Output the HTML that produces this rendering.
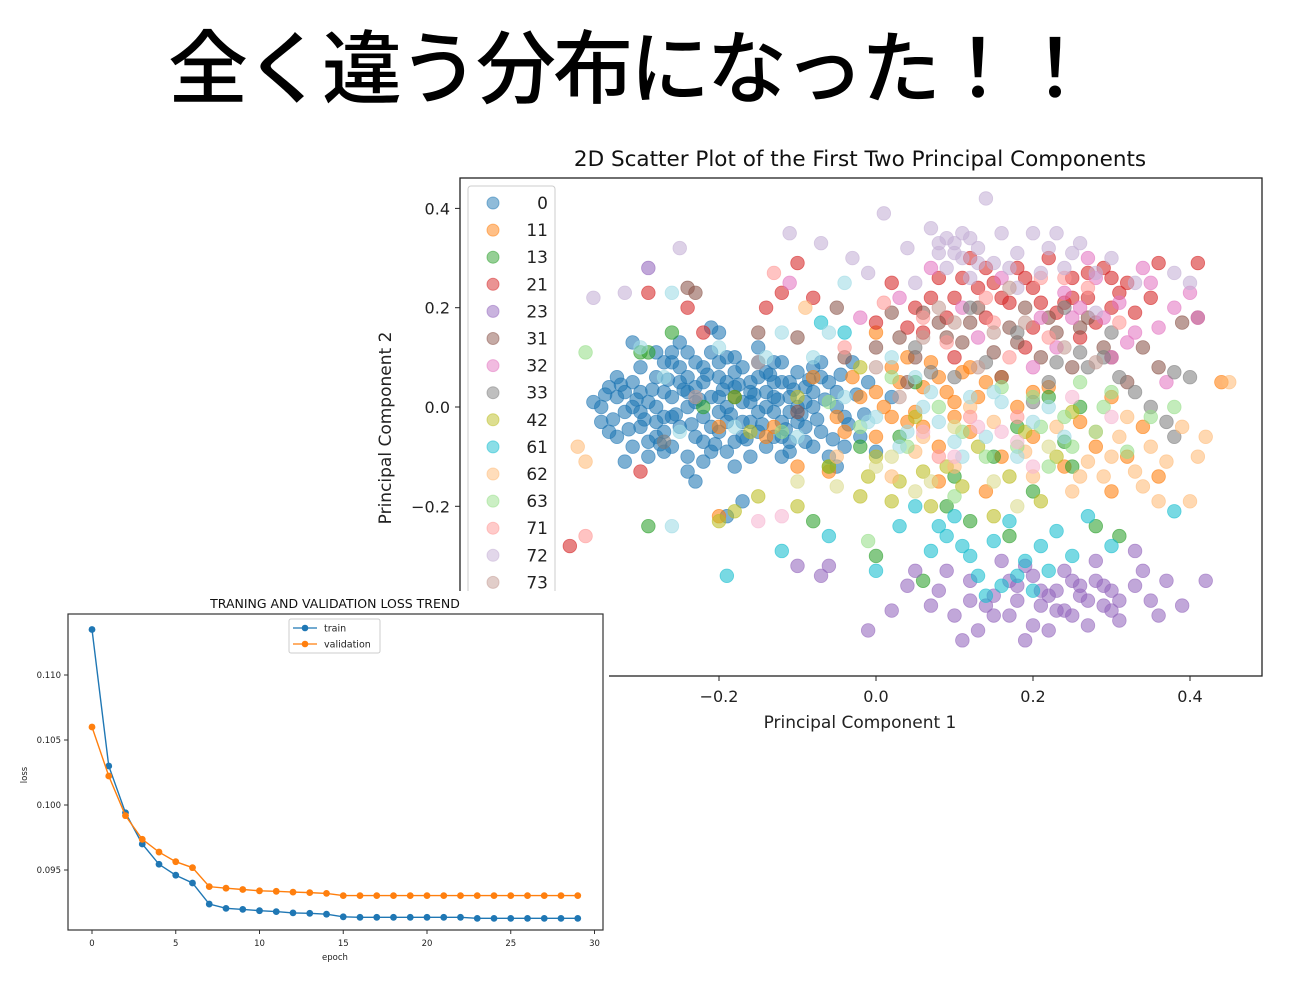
<!DOCTYPE html>
<html><head><meta charset="utf-8">
<style>
html,body{margin:0;padding:0;background:#fff;width:1308px;height:1001px;overflow:hidden}
svg text{font-family:"DejaVu Sans","Liberation Sans",sans-serif}
</style></head>
<body>
<svg id="root" width="1308" height="1001" viewBox="0 0 1308 1001" xmlns="http://www.w3.org/2000/svg">
<text x="630" y="97" text-anchor="middle" font-size="80" letter-spacing="-3" font-weight="500" style="font-family:'Liberation Sans','Noto Sans CJK JP',sans-serif">全く違う分布になった！！</text>
<g id="scatter"></g>
<g id="loss"></g>
</svg>
<script>
// ---------- scatter data ----------
const classLabels = ["0","11","13","21","23","31","32","33","42","61","62","63","71","72","73","81","82","83"];
const classColors = ["#1f77b4","#ff7f0e","#2ca02c","#d62728","#9467bd","#8c564b","#e377c2","#7f7f7f","#bcbd22","#17becf","#ffbb78","#98df8a","#ff9896","#c5b0d5","#c49c94","#9edae5","#f7b6d2","#dbdb8d"];
const pts0 = [[-0.36,0.01],[-0.35,-0.03],[-0.34,0.04],[-0.33,-0.06],[-0.33,0.02],[-0.32,-0.01],[-0.31,0.05],[-0.31,-0.08],[-0.30,0.08],[-0.30,-0.04],[-0.29,0.01],[-0.29,-0.10],[-0.28,0.06],[-0.28,-0.06],[-0.27,0.03],[-0.27,-0.02],[-0.26,0.09],[-0.26,-0.08],[-0.25,0.05],[-0.25,-0.04],[-0.24,0.00],[-0.24,0.11],[-0.24,-0.10],[-0.23,0.04],[-0.23,-0.06],[-0.22,0.08],[-0.22,-0.02],[-0.21,0.02],[-0.21,-0.09],[-0.20,0.06],[-0.20,-0.05],[-0.19,0.10],[-0.19,0.00],[-0.18,-0.07],[-0.18,0.04],[-0.17,0.08],[-0.17,-0.03],[-0.16,0.01],[-0.16,-0.10],[-0.15,0.06],[-0.15,-0.05],[-0.14,0.03],[-0.14,-0.08],[-0.13,0.09],[-0.13,-0.01],[-0.12,0.05],[-0.12,-0.06],[-0.11,0.02],[-0.11,-0.09],[-0.10,0.07],[-0.10,-0.03],[-0.09,0.04],[-0.09,-0.07],[-0.08,0.00],[-0.07,0.06],[-0.07,-0.05],[-0.06,-0.10],[-0.05,0.03],[-0.04,-0.02],[-0.03,0.09],[-0.02,-0.06],[-0.35,0.0],[-0.34,-0.05],[-0.32,0.03],[-0.30,-0.01],[-0.28,0.0],[-0.26,0.02],[-0.26,-0.02],[-0.25,0.08],[-0.23,0.01],[-0.22,0.05],[-0.21,-0.04],[-0.20,0.02],[-0.19,-0.03],[-0.18,0.07],[-0.17,0.01],[-0.16,0.05],[-0.15,-0.01],[-0.14,0.07],[-0.13,0.02],[-0.12,-0.03],[-0.11,0.05],[-0.10,0.00],[-0.09,-0.04],[-0.08,0.03],[-0.24,-0.13],[-0.18,-0.12],[-0.28,0.11],[-0.20,0.15],[-0.21,0.16],[-0.31,0.13],[-0.23,-0.15],[-0.17,-0.19],[-0.32,-0.11],[-0.19,-0.22],[-0.25,0.13],[-0.15,0.12],[-0.05,-0.12],[-0.01,0.05],[0.0,-0.09],[0.02,0.02],[-0.33,0.06],[-0.29,-0.07],[-0.27,0.09],[-0.22,-0.07],[-0.20,0.09],[-0.17,-0.06],[-0.13,0.05],[-0.11,-0.01],[-0.08,-0.08],[-0.06,0.05],[-0.24,0.06],[-0.19,0.05],[-0.16,-0.03],[-0.14,0.0],[-0.27,-0.05],[-0.21,0.11],[-0.12,0.09],[-0.30,0.03],[-0.345,0.025],[-0.335,-0.025],[-0.325,0.045],[-0.315,-0.045],[-0.305,0.015],[-0.295,-0.025],[-0.285,0.035],[-0.275,-0.075],[-0.265,0.055],[-0.255,-0.015],[-0.245,0.035],[-0.235,-0.035],[-0.225,0.015],[-0.215,0.065],[-0.205,-0.075],[-0.195,0.035],[-0.185,-0.015],[-0.175,0.045],[-0.165,-0.065],[-0.155,0.025],[-0.145,-0.035],[-0.135,0.065],[-0.125,0.015],[-0.115,-0.045],[-0.105,0.035],[-0.095,-0.015],[-0.085,0.055],[-0.075,-0.025],[-0.065,0.015],[-0.055,-0.065],[-0.045,0.065],[-0.035,-0.035],[-0.025,0.025],[-0.015,-0.015],[-0.27,-0.09],[-0.23,0.09],[-0.19,-0.09],[-0.15,0.09],[-0.11,-0.07],[-0.07,0.09],[-0.22,-0.11],[-0.26,0.11],[-0.18,0.10],[-0.12,-0.10],[-0.08,0.08],[-0.04,-0.08],[-0.2,-0.01],[-0.16,0.03],[-0.24,0.03],[-0.28,-0.03],[-0.31,0.0],[-0.13,-0.06],[-0.09,0.01],[-0.05,0.0]];
const pts11 = [[-0.2,-0.04],[-0.18,0.02],[-0.13,-0.04],[-0.08,0.06],[-0.05,-0.02],[-0.02,0.02],[0.0,-0.06],[0.02,0.08],[0.04,-0.03],[0.06,0.04],[0.08,-0.08],[0.1,0.01],[0.12,-0.05],[0.14,0.05],[0.16,-0.1],[0.18,0.0],[0.2,-0.06],[0.22,0.04],[0.24,-0.12],[0.26,-0.03],[0.28,-0.08],[0.3,0.02],[0.32,-0.1],[0.34,-0.04],[0.36,-0.14],[0.44,0.05],[-0.06,-0.13],[-0.2,-0.22],[0.0,0.15],[0.08,-0.15],[0.14,-0.17],[0.3,-0.17],[0.03,0.05],[0.07,0.09],[0.09,0.03],[0.11,0.07],[0.05,-0.01],[-0.03,0.06],[0.01,0.0],[0.04,0.1],[0.08,0.06],[0.12,0.08],[0.02,-0.02],[0.06,-0.04],[0.1,-0.02],[-0.04,-0.05],[0.0,0.03],[0.13,0.02],[0.16,0.06],[0.2,0.03],[-0.14,-0.06],[-0.1,-0.12]];
const pts13 = [[-0.3,0.11],[-0.29,0.11],[-0.26,0.15],[-0.29,-0.24],[-0.22,0.0],[-0.18,0.02],[-0.06,-0.12],[-0.02,-0.08],[0.0,-0.3],[0.05,0.05],[0.09,-0.2],[0.12,-0.23],[0.15,-0.1],[0.17,-0.26],[0.2,-0.17],[0.24,-0.07],[0.28,-0.24],[0.31,-0.26],[0.26,0.0],[0.06,-0.35],[-0.08,-0.23],[0.22,0.02],[0.25,-0.12],[0.18,-0.04],[0.1,-0.14],[0.03,-0.06]];
const pts21 = [[-0.29,0.23],[-0.24,0.2],[-0.22,0.15],[-0.3,-0.13],[-0.39,-0.28],[-0.14,0.2],[-0.12,0.23],[-0.1,0.29],[-0.08,0.22],[0.02,0.25],[0.05,0.2],[0.08,0.26],[0.1,0.22],[0.12,0.3],[0.14,0.18],[0.15,0.25],[0.17,0.21],[0.18,0.28],[0.2,0.24],[0.22,0.3],[0.23,0.19],[0.25,0.26],[0.27,0.22],[0.29,0.28],[0.3,0.2],[0.32,0.25],[0.35,0.22],[0.36,0.29],[0.41,0.29],[0.06,0.15],[0.19,0.12],[0.26,0.14],[0.1,0.1],[0.0,0.17],[0.13,0.24],[0.21,0.21],[0.28,0.17],[0.07,0.22],[0.11,0.26],[0.16,0.22],[0.19,0.26],[0.24,0.21],[0.27,0.27],[0.31,0.23],[0.33,0.19],[0.04,0.16],[0.09,0.18],[0.14,0.28],[0.2,0.16],[0.25,0.22],[0.3,0.26]];
const pts23 = [[0.05,-0.33],[0.08,-0.37],[0.1,-0.42],[0.12,-0.35],[0.13,-0.45],[0.15,-0.38],[0.16,-0.31],[0.17,-0.42],[0.18,-0.36],[0.19,-0.47],[0.2,-0.34],[0.21,-0.4],[0.22,-0.45],[0.23,-0.37],[0.24,-0.33],[0.25,-0.42],[0.26,-0.38],[0.27,-0.44],[0.28,-0.35],[0.29,-0.4],[0.3,-0.37],[0.31,-0.43],[0.33,-0.36],[0.35,-0.39],[0.37,-0.35],[0.39,-0.4],[0.42,-0.35],[-0.01,-0.45],[0.02,-0.41],[0.04,-0.36],[-0.1,-0.32],[-0.07,-0.34],[0.11,-0.47],[0.2,-0.44],[0.24,-0.41],[0.18,-0.39],[0.28,-0.31],[0.33,-0.29],[-0.29,0.28],[-0.06,-0.32],[0.22,-0.38],[0.26,-0.36],[0.14,-0.4],[0.09,-0.33],[0.19,-0.32],[0.3,-0.41],[0.21,-0.37],[0.23,-0.41],[0.25,-0.35],[0.27,-0.39],[0.17,-0.35],[0.15,-0.42],[0.29,-0.36],[0.31,-0.39],[0.36,-0.42],[0.07,-0.4],[0.12,-0.39],[0.34,-0.33]];
const pts31 = [[-0.24,0.24],[-0.23,0.23],[-0.15,0.15],[-0.1,0.14],[-0.05,0.2],[-0.04,0.1],[0.0,0.12],[0.02,0.19],[0.05,0.1],[0.08,0.17],[0.11,0.13],[0.13,0.2],[0.15,0.11],[0.17,0.16],[0.19,0.2],[0.21,0.1],[0.23,0.15],[0.25,0.08],[0.27,0.18],[0.29,0.12],[0.32,0.05],[0.34,0.12],[0.36,0.08],[0.39,0.17],[0.41,0.18],[-0.1,-0.01],[0.04,0.05],[0.16,0.06],[0.06,0.19],[0.09,0.14],[0.12,0.17],[0.18,0.13],[0.22,0.18],[0.26,0.16],[0.3,0.1],[0.03,0.14]];
const pts32 = [[-0.11,0.25],[-0.02,0.18],[0.03,0.22],[0.07,0.28],[0.11,0.2],[0.16,0.26],[0.21,0.18],[0.24,0.23],[0.28,0.26],[0.31,0.21],[0.33,0.15],[0.35,0.25],[0.38,0.2],[0.4,0.23],[0.41,0.18],[0.3,0.1],[0.2,0.08],[0.27,0.3],[0.13,0.14],[0.37,0.05],[0.25,0.18],[0.34,0.28],[0.29,0.18],[0.32,0.13],[0.36,0.16],[0.26,0.2],[0.23,0.12]];
const pts33 = [[0.05,0.12],[0.1,0.06],[0.14,0.09],[0.18,0.15],[0.22,0.05],[0.26,0.11],[0.3,0.15],[0.33,0.03],[0.35,0.0],[0.37,-0.03],[0.38,0.07],[0.4,0.06],[0.38,-0.06],[0.24,0.2],[0.2,0.01],[0.12,0.2],[0.07,0.07],[-0.27,-0.07],[0.27,0.08],[0.31,0.06],[0.29,0.1],[0.23,0.09]];
const pts42 = [[-0.2,-0.23],[-0.18,-0.21],[-0.15,-0.18],[-0.1,-0.2],[-0.06,-0.12],[-0.02,-0.18],[0.0,-0.1],[0.03,-0.15],[0.05,-0.02],[0.07,-0.2],[0.09,-0.12],[0.11,-0.16],[0.13,-0.08],[0.15,-0.22],[0.17,-0.14],[0.19,-0.05],[0.21,-0.19],[0.23,-0.1],[0.25,-0.01],[-0.1,0.02],[-0.16,-0.05],[-0.02,0.08],[-0.01,-0.14],[0.02,-0.19],[0.06,-0.13]];
const pts61 = [[-0.19,-0.34],[-0.12,-0.29],[-0.06,-0.26],[0.0,-0.33],[0.03,-0.24],[0.07,-0.29],[0.09,-0.26],[0.12,-0.3],[0.13,-0.34],[0.15,-0.27],[0.17,-0.23],[0.19,-0.31],[0.21,-0.28],[0.23,-0.25],[0.25,-0.3],[0.27,-0.22],[0.3,-0.28],[0.38,-0.21],[0.05,-0.2],[0.1,-0.22],[-0.07,0.17],[-0.04,0.15],[0.18,-0.34],[0.14,-0.38],[0.16,-0.36],[0.2,-0.37],[0.22,-0.33],[0.11,-0.28],[0.08,-0.24]];
const pts62 = [[-0.38,-0.08],[-0.37,-0.11],[-0.05,-0.1],[0.02,-0.14],[0.06,-0.06],[0.1,-0.12],[0.15,-0.03],[0.19,-0.09],[0.23,-0.04],[0.27,-0.11],[0.29,-0.14],[0.31,-0.06],[0.33,-0.13],[0.35,-0.08],[0.37,-0.11],[0.39,-0.04],[0.41,-0.1],[0.42,-0.06],[0.36,-0.19],[0.4,-0.19],[0.25,-0.17],[0.2,-0.14],[0.12,0.0],[0.05,-0.09],[-0.09,0.2],[0.45,0.05],[0.3,-0.1],[0.34,-0.16],[0.28,-0.05],[0.32,-0.02],[0.26,-0.14]];
const pts63 = [[-0.37,0.11],[-0.12,-0.05],[-0.06,0.01],[-0.02,-0.04],[0.02,0.06],[0.04,-0.08],[0.08,0.0],[0.11,-0.05],[0.14,-0.1],[0.16,0.04],[0.18,-0.08],[0.2,0.02],[0.22,-0.12],[0.24,-0.02],[0.26,0.05],[0.28,-0.05],[0.3,0.03],[0.32,-0.09],[0.35,-0.02],[0.38,0.0],[0.1,-0.18],[-0.01,-0.27],[0.21,-0.04],[0.25,-0.08],[0.29,0.0]];
const pts71 = [[-0.37,-0.26],[-0.13,0.27],[-0.04,0.12],[0.01,0.21],[0.06,0.18],[0.09,0.13],[0.14,0.22],[0.17,0.1],[0.22,0.14],[0.27,0.24],[0.31,0.17],[0.12,-0.02],[0.18,-0.02],[0.08,-0.1],[0.21,0.26],[0.15,0.17],[0.24,0.26]];
const pts72 = [[-0.32,0.23],[-0.25,0.32],[-0.36,0.22],[-0.11,0.35],[-0.07,0.33],[-0.03,0.3],[0.01,0.39],[0.04,0.32],[0.07,0.36],[0.08,0.31],[0.09,0.34],[0.1,0.33],[0.11,0.3],[0.12,0.34],[0.13,0.32],[0.14,0.42],[0.15,0.29],[0.16,0.35],[0.18,0.31],[0.2,0.35],[0.22,0.32],[0.24,0.28],[0.26,0.33],[0.28,0.27],[0.3,0.3],[0.33,0.25],[0.38,0.27],[0.4,0.25],[0.12,0.26],[0.18,0.24],[0.28,0.19],[-0.01,0.27],[0.05,0.25],[0.21,0.27],[0.08,0.33],[0.1,0.31],[0.11,0.35],[0.13,0.29],[0.09,0.28],[0.23,0.35],[0.25,0.31],[0.17,0.28]];
const pts73 = [[-0.23,0.02],[-0.15,0.09],[0.0,0.08],[0.06,0.14],[0.1,0.17],[0.15,0.15],[0.19,0.17],[0.24,0.12],[0.28,0.09],[0.03,0.02],[0.13,0.08],[0.08,0.2],[0.17,0.24]];
const pts81 = [[-0.3,0.12],[-0.27,0.06],[-0.25,-0.05],[-0.2,0.12],[-0.18,-0.04],[-0.14,0.1],[-0.1,-0.06],[-0.08,0.1],[-0.04,0.02],[-0.01,-0.03],[0.02,0.1],[0.04,-0.05],[0.06,0.0],[0.08,-0.03],[0.1,-0.07],[0.12,0.02],[0.14,-0.06],[0.16,0.01],[0.18,-0.1],[0.2,-0.03],[0.22,0.0],[0.24,-0.06],[-0.12,0.15],[-0.06,0.15],[-0.04,0.25],[-0.26,-0.24],[-0.26,0.23],[0.0,-0.02],[0.03,-0.08],[0.07,0.03],[0.11,-0.1],[0.15,0.03],[0.05,0.06]];
const pts82 = [[0.06,-0.05],[0.1,-0.1],[0.16,-0.05],[0.2,-0.12],[0.25,0.02],[0.3,-0.02],[-0.15,-0.23],[-0.12,-0.22],[0.13,-0.04],[0.18,-0.07]];
const pts83 = [[0.0,-0.12],[0.05,-0.17],[0.1,-0.04],[0.15,-0.15],[0.18,-0.2],[-0.05,-0.16],[-0.1,-0.15],[0.22,-0.08],[0.02,-0.1],[0.07,-0.15]];
const classPoints = [pts0,pts11,pts13,pts21,pts23,pts31,pts32,pts33,pts42,pts61,pts62,pts63,pts71,pts72,pts73,pts81,pts82,pts83];
const sxTicks = [-0.2,0.0,0.2,0.4];
const syTicks = [0.4,0.2,0.0,-0.2];
const legendShown = 15;

// ---------- loss data ----------
const epochs = Array.from({length:30},(_,i)=>i);
const trainLoss = [0.1135,0.1030,0.0994,0.0970,0.09544,0.0946,0.0940,0.09238,0.09205,0.09197,0.09187,0.0918,0.0917,0.09167,0.0916,0.0914,0.09136,0.09136,0.09136,0.09136,0.09136,0.09136,0.09136,0.09128,0.09128,0.09128,0.09128,0.09128,0.09128,0.09128];
const valLoss = [0.1060,0.10223,0.09918,0.09736,0.09638,0.09564,0.09518,0.09372,0.0936,0.0935,0.0934,0.09336,0.0933,0.09326,0.0932,0.09303,0.09303,0.09303,0.09303,0.09303,0.09303,0.09303,0.09303,0.09303,0.09303,0.09303,0.09303,0.09303,0.09303,0.09303];
const lxTicks = [0,5,10,15,20,25,30];
const lyTicks = [0.110,0.105,0.100,0.095];

const NS="http://www.w3.org/2000/svg";
function mk(tag,attrs,parent,text){const e=document.createElementNS(NS,tag);for(const k in attrs)e.setAttribute(k,attrs[k]);if(text!==undefined)e.textContent=text;parent.appendChild(e);return e;}

// ---- scatter ----
const S=document.getElementById('scatter');
const L={l:460,r:1262,t:178,b:676};
const sx=v=>876+v*785;
const sy=v=>407-v*496.5;
const defs=mk('defs',{},S);
const cp=mk('clipPath',{id:'sclip'},defs);
mk('rect',{x:L.l,y:L.t,width:L.r-L.l,height:L.b-L.t},cp);
const title=mk('text',{x:860,y:166,'text-anchor':'middle','font-size':21.5,fill:'#111'},S,'2D Scatter Plot of the First Two Principal Components');


const pg=mk('g',{'clip-path':'url(#sclip)'},S);
classPoints.forEach((arr,ci)=>{
  const g=mk('g',{},pg);
  
  
  arr.forEach(p=>{
    const c=mk('circle',{cx:sx(p[0]),cy:sy(p[1]),r:6.8,fill:classColors[ci],'fill-opacity':0.58,stroke:classColors[ci],'stroke-opacity':0.6,'stroke-width':0.8},g);
    
    
  });
});
const frame=mk('rect',{x:L.l,y:L.t,width:L.r-L.l,height:L.b-L.t,fill:'none',stroke:'#222','stroke-width':1.3},S);


sxTicks.forEach(t=>{
  mk('line',{x1:sx(t),x2:sx(t),y1:L.b,y2:L.b+5,stroke:'#222'},S);
  const tx=mk('text',{x:sx(t),y:L.b+26,'text-anchor':'middle','font-size':16,fill:'#222'},S,(t<0?'\u2212':'')+Math.abs(t).toFixed(1));
  
  
});
syTicks.forEach(t=>{
  mk('line',{x1:L.l-5,x2:L.l,y1:sy(t),y2:sy(t),stroke:'#222'},S);
  const tx=mk('text',{x:L.l-10,y:sy(t)+6,'text-anchor':'end','font-size':16,fill:'#222'},S,(t<0?'\u2212':'')+Math.abs(t).toFixed(1));
  
  
});
const xt=mk('text',{x:860,y:728,'text-anchor':'middle','font-size':17,fill:'#222'},S,'Principal Component 1');


const yt=mk('text',{x:0,y:0,transform:'translate(391,428) rotate(-90)','text-anchor':'middle','font-size':17,fill:'#222'},S,'Principal Component 2');


const lg=mk('g',{},S);


mk('rect',{x:468,y:186,width:87,height:430,rx:3,fill:'#fff','fill-opacity':0.85,stroke:'#ccc'},lg);
for(let i=0;i<legendShown;i++){
  const y=203+i*27.1;
  const e=mk('g',{},lg);
  
  
  mk('circle',{cx:493,cy:y,r:6,fill:classColors[i],'fill-opacity':0.5,stroke:classColors[i],'stroke-opacity':0.5},e);
  mk('text',{x:548,y:y+6,'text-anchor':'end','font-size':17,fill:'#222'},e,classLabels[i]);
}

// ---- loss chart ----
const G=document.getElementById('loss');
const bg=mk('rect',{x:0,y:591,width:609,height:390,fill:'#fff'},G);


const LB={l:68,r:603,t:614,b:930};
const lx=v=>92+v*16.75;
const ly=v=>805-(v-0.100)*13000;
const lt=mk('text',{x:335,y:608,'text-anchor':'middle','font-size':12.5,fill:'#111'},G,'TRANING AND VALIDATION LOSS TREND');


mk('rect',{x:LB.l,y:LB.t,width:LB.r-LB.l,height:LB.b-LB.t,fill:'none',stroke:'#333','stroke-width':1.2},G);
lxTicks.forEach(t=>{
  mk('line',{x1:lx(t),x2:lx(t),y1:LB.b,y2:LB.b+4,stroke:'#333'},G);
  const tx=mk('text',{x:lx(t),y:LB.b+16,'text-anchor':'middle','font-size':8.5,fill:'#222'},G,String(t));
  
  
});
lyTicks.forEach(t=>{
  mk('line',{x1:LB.l-4,x2:LB.l,y1:ly(t),y2:ly(t),stroke:'#333'},G);
  const tx=mk('text',{x:LB.l-7,y:ly(t)+3,'text-anchor':'end','font-size':8.5,fill:'#222'},G,t.toFixed(3));
  
  
});
const ex=mk('text',{x:335,y:960,'text-anchor':'middle','font-size':8.5,fill:'#222'},G,'epoch');


const ey=mk('text',{x:0,y:0,transform:'translate(27,775) rotate(-90)','text-anchor':'middle','font-size':8.5,fill:'#222'},G,'loss');


function series(vals,color,name){
  const g=mk('g',{},G);
  
  
  mk('polyline',{points:vals.map((v,i)=>lx(epochs[i])+','+ly(v)).join(' '),fill:'none',stroke:color,'stroke-width':1.4},g);
  vals.forEach((v,i)=>{
    const c=mk('circle',{cx:lx(epochs[i]),cy:ly(v),r:3.4,fill:color},g);
    
    
  });
}
series(trainLoss,'#1f77b4','train-line');
series(valLoss,'#ff7f0e','validation-line');
const lleg=mk('g',{},G);


mk('rect',{x:289,y:619,width:91,height:34,rx:2,fill:'#fff',stroke:'#ccc'},lleg);
[['train','#1f77b4',628],['validation','#ff7f0e',644]].forEach(d=>{
  mk('line',{x1:293,x2:317,y1:d[2],y2:d[2],stroke:d[1],'stroke-width':1.3},lleg);
  mk('circle',{cx:305,cy:d[2],r:3.3,fill:d[1]},lleg);
  mk('text',{x:324,y:d[2]+3.5,'font-size':9.5,fill:'#222'},lleg,d[0]);
});
</script>
</body></html>
